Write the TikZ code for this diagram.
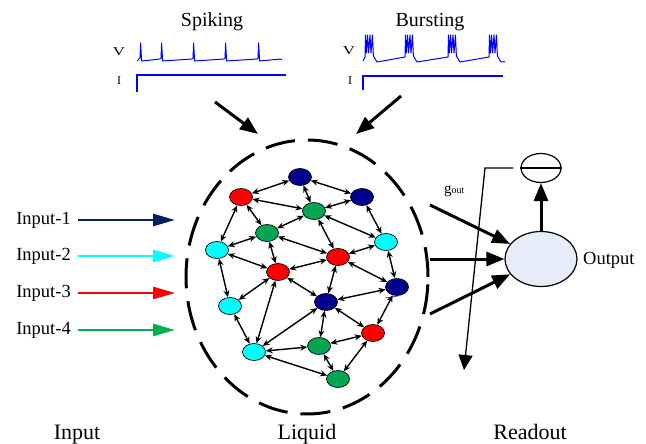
\documentclass[tikz,border=0pt]{standalone}
\usepackage{fontspec}
\setmainfont{Liberation Serif}
\usetikzlibrary{shapes.geometric,arrows.meta}

\definecolor{navyN}{RGB}{0,0,140}
\definecolor{redN}{RGB}{255,0,0}
\definecolor{greenN}{RGB}{0,166,81}
\definecolor{cyanN}{RGB}{0,255,255}
\definecolor{inNavy}{RGB}{0,32,96}
\definecolor{inGreen}{RGB}{0,176,80}
\definecolor{traceBlue}{RGB}{0,0,255}
\definecolor{outFill}{RGB}{231,237,248}

\begin{document}
\begin{tikzpicture}[x=1pt,y=-1pt,
  neuron/.style={ellipse,draw=black,line width=0.7pt,minimum width=23pt,minimum height=17pt,inner sep=0pt},
  syn/.style={{Stealth[length=7pt,width=6pt]}-{Stealth[length=7pt,width=6pt]},line width=1.4pt},
  inarrow/.style={-{Triangle[length=22pt,width=12pt]},line width=2.7pt},
  bigarrow/.style={-{Triangle[length=18pt,width=14pt]},line width=3pt},
  trace/.style={traceBlue,line width=1pt,line join=round},
  stim/.style={traceBlue,line width=2.2pt},
  lbl/.style={font=\fontsize{18.5}{20}\selectfont,inner sep=0pt},
  title/.style={font=\fontsize{20}{22}\selectfont,inner sep=0pt},
  section/.style={font=\fontsize{22}{24}\selectfont,inner sep=0pt},
  axis/.style={font=\fontsize{12}{13}\selectfont,inner sep=0pt}]
\useasboundingbox (0,0) rectangle (646,444);

% ---- neuron models: spiking and bursting ----
\node[title,anchor=base] (spk) at (212,27) {Spiking};
\node[title,anchor=base] (bst) at (430,27) {Bursting};
\node[axis] (v1) at (119,52) {\scalebox{1.4}[1]{V}};
\node[axis] (i1) at (119,81) {I};
\node[axis] (v2) at (349,51) {\scalebox{1.4}[1]{V}};
\node[axis] (i2) at (350,81) {I};

\draw[trace] (137,61)
  foreach \s/\n in {140/161,161/193,193/225,225/258,258/282}
  { -- (\s,58) -- (\s+0.6,43) -- (\s+1.6,61) -- (\n-1,59) } -- (282,60);
\draw[stim] (137,92) -- (137,75) -- (286,75);

\draw[trace] (363,61)
  foreach \b/\n/\ny in {365/405/57,405/448/57,448/489/57,489/505/62}
  { -- (\b,57) -- (\b+0.5,35) -- (\b+1.4,53) -- (\b+2.6,35) -- (\b+3.6,53)
    -- (\b+5,35) -- (\b+6,53) -- (\b+7.4,35) -- (\b+8.4,56)
    -- (\b+12,62) -- (\n,\ny) };
\draw[stim] (363,90) -- (363,76) -- (503,76);

\coordinate (spkA) at (215,102);
\coordinate (spkB) at (258,134);
\coordinate (bstA) at (401,96);
\coordinate (bstB) at (356,134);
\draw[bigarrow] (spkA) -- (spkB);
\draw[bigarrow] (bstA) -- (bstB);

% ---- liquid ----
\node[ellipse,draw,line width=3pt,dash pattern=on 30pt off 13pt,
      minimum width=242pt,minimum height=274pt] (liquid) at (307,277) {};

\node[neuron,fill=navyN]  (n1)  at (300,177) {};
\node[neuron,fill=redN]   (n2)  at (241,197) {};
\node[neuron,fill=navyN]  (n3)  at (362,197) {};
\node[neuron,fill=greenN] (n4)  at (314,211) {};
\node[neuron,fill=greenN] (n5)  at (267,233) {};
\node[neuron,fill=cyanN]  (n6)  at (217,250) {};
\node[neuron,fill=cyanN]  (n7)  at (386,242) {};
\node[neuron,fill=redN]   (n8)  at (338,257) {};
\node[neuron,fill=redN]   (n9)  at (278,272) {};
\node[neuron,fill=navyN]  (n10) at (397,287) {};
\node[neuron,fill=navyN]  (n11) at (326,302) {};
\node[neuron,fill=cyanN]  (n12) at (230,306) {};
\node[neuron,fill=redN]   (n13) at (373,333) {};
\node[neuron,fill=cyanN]  (n14) at (254,352) {};
\node[neuron,fill=greenN] (n15) at (319,346) {};
\node[neuron,fill=greenN] (n16) at (338,379) {};

\foreach \a/\b in {1/2,1/3,1/4,2/4,2/5,2/6,3/4,3/7,4/5,4/7,4/8,5/6,5/9,5/8,
                   6/9,7/8,7/10,8/9,6/12,9/12,9/14,9/11,8/11,8/10,10/11,10/13,
                   11/14,11/15,11/13,12/14,14/15,13/15,13/16,15/16,14/16}
  \draw[syn] (n\a) -- (n\b);
\draw[blue!70!black,line width=0.5pt] (385,298) -- (398,296);

% ---- inputs ----
\node[lbl,anchor=east] (in1) at (71,220) {Input-1};
\node[lbl,anchor=east] (in2) at (71,256) {Input-2};
\node[lbl,anchor=east] (in3) at (71,293) {Input-3};
\node[lbl,anchor=east] (in4) at (71,330) {Input-4};
\coordinate (t1) at (175,220);
\coordinate (t2) at (175,256);
\coordinate (t3) at (175,293);
\coordinate (t4) at (175,330);
\draw[inarrow,inNavy,shorten <=7pt] (in1.east) -- (t1);
\draw[inarrow,cyanN,shorten <=7pt] (in2.east) -- (t2);
\draw[inarrow,redN,shorten <=7pt] (in3.east) -- (t3);
\draw[inarrow,inGreen,shorten <=7pt] (in4.east) -- (t4);

% ---- readout ----
\node[ellipse,draw,line width=1.2pt,fill=outFill,minimum width=72pt,minimum height=55pt] (out) at (541,259) {};
\node[lbl,anchor=base west] (outlbl) at (583,264) {Output};
\node[ellipse,draw,line width=1.2pt,minimum width=40pt,minimum height=29pt] (sub) at (541,168) {};
\draw[line width=1.2pt] (sub.west) -- (sub.east);
\draw[bigarrow] (out) -- (sub);

\coordinate (r1) at (430,205);
\coordinate (r2) at (430,259);
\coordinate (r3) at (430,314);
\draw[bigarrow] (r1) -- (out);
\draw[bigarrow] (r2) -- (out);
\draw[bigarrow] (r3) -- (out);

\coordinate (fbk) at (485,168);
\coordinate (fbend) at (464,370);
\draw[line width=1.3pt,-{Triangle[length=15pt,width=14pt]},shorten <=7pt] (sub) -- (fbk) -- (fbend);
\node[anchor=base west,inner sep=0pt] (gout) at (444,193)
  {\fontsize{15}{15}\selectfont g\raisebox{-1pt}{\fontsize{10}{10}\selectfont out}};

% ---- section titles ----
\node[section,anchor=base] (secIn) at (77,439) {Input};
\node[section,anchor=base] (secLiq) at (307,439) {Liquid};
\node[section,anchor=base] (secOut) at (530,439) {Readout};
\end{tikzpicture}
\end{document}
